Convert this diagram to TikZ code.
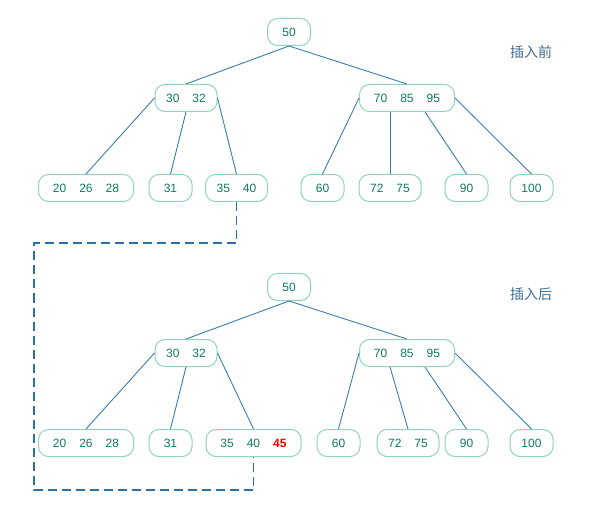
\documentclass[tikz,border=0pt]{standalone}
\usepackage{fontspec}
\setmainfont{Liberation Sans}
\newfontfamily\cjk{Noto Sans CJK SC}
\usepackage{xcolor}
\usepackage{tikz}
\usetikzlibrary{calc}

\definecolor{keyborder}{HTML}{8ED5BC}
\definecolor{keytext}{HTML}{0E7B60}
\definecolor{linkblue}{HTML}{3C7DB3}
\definecolor{dashblue}{HTML}{2A72A8}
\definecolor{tagblue}{HTML}{3E6D98}

\newcommand{\kgap}{\hspace{13pt}}

\begin{document}
\begin{tikzpicture}[
    x=1pt, y=-1pt,
    keynode/.style={rectangle, rounded corners=10pt, draw=keyborder, line width=1pt, fill=white, text=keytext, minimum height=27pt, inner sep=0pt, font=\fontsize{12}{12}\selectfont},
    key1/.style={keynode, minimum width=43pt},
    key2/.style={keynode, minimum width=62pt},
    key3/.style={keynode, minimum width=95pt},
    link/.style={linkblue, line width=0.9pt},
    dashlink/.style={dashblue, line width=1.5pt, dash pattern=on 9pt off 5pt},
    tag/.style={text=tagblue, font=\cjk\fontsize{14}{14}\selectfont},
  ]
    \useasboundingbox (0,0) rectangle (616,513);

    % before insertion
    \node[key1] (a50) at (289, 32) {50};
    \node[key2] (a3032) at (186, 98) {30\kgap 32};
    \node[key3] (a708595) at (407, 98) {70\kgap 85\kgap 95};
    \node[key3] (a202628) at (86, 188) {20\kgap 26\kgap 28};
    \node[key1] (a31) at (170.5, 188) {31};
    \node[key2] (a3540) at (236.5, 188) {35\kgap 40};
    \node[key1] (a60) at (322.5, 188) {60};
    \node[key2] (a7275) at (390, 188) {72\kgap 75};
    \node[key1] (a90) at (466.5, 188) {90};
    \node[key1] (a100) at (531.5, 188) {100};
    \node[tag] (before) at (531, 52) {插入前};

    \draw[link] (a50.south) -- (a3032.north);
    \draw[link] (a50.south) -- (a708595.north);
    \draw[link] (a3032.west) -- (a202628.north);
    \draw[link] (a3032.south) -- (a31.north);
    \draw[link] (a3032.east) -- (a3540.north);
    \draw[link] (a708595.west) -- (a60.north);
    \draw[link] ($(a708595.south)+(-17,0)$) -- (a7275.north);
    \draw[link] ($(a708595.south)+(18,0)$) -- (a90.north);
    \draw[link] (a708595.east) -- (a100.north);

    % after insertion
    \node[key1] (b50) at (289, 287) {50};
    \node[key2] (b3032) at (186, 353) {30\kgap 32};
    \node[key3] (b708595) at (407, 353) {70\kgap 85\kgap 95};
    \node[key3] (b202628) at (86, 443) {20\kgap 26\kgap 28};
    \node[key1] (b31) at (170.5, 443) {31};
    \node[key3] (b354045) at (253.5, 443) {35\kgap 40\kgap \textcolor{red}{\textbf{45}}};
    \node[key1] (b60) at (338.5, 443) {60};
    \node[key2] (b7275) at (408, 443) {72\kgap 75};
    \node[key1] (b90) at (466.5, 443) {90};
    \node[key1] (b100) at (531.5, 443) {100};
    \node[tag] (after) at (531, 294) {插入后};

    \draw[link] (b50.south) -- (b3032.north);
    \draw[link] (b50.south) -- (b708595.north);
    \draw[link] (b3032.west) -- (b202628.north);
    \draw[link] (b3032.south) -- (b31.north);
    \draw[link] (b3032.east) -- (b354045.north);
    \draw[link] (b708595.west) -- (b60.north);
    \draw[link] ($(b708595.south)+(-17,0)$) -- (b7275.north);
    \draw[link] ($(b708595.south)+(18,0)$) -- (b90.north);
    \draw[link] (b708595.east) -- (b100.north);

    % dashed link between the two leaves
    \coordinate (turnA) at (34, 243);
    \coordinate (turnB) at (34, 490);
    \draw[dashlink] (a3540.south) |- (turnA) -- (turnB) -| (b354045.south);
  \end{tikzpicture}
\end{document}
